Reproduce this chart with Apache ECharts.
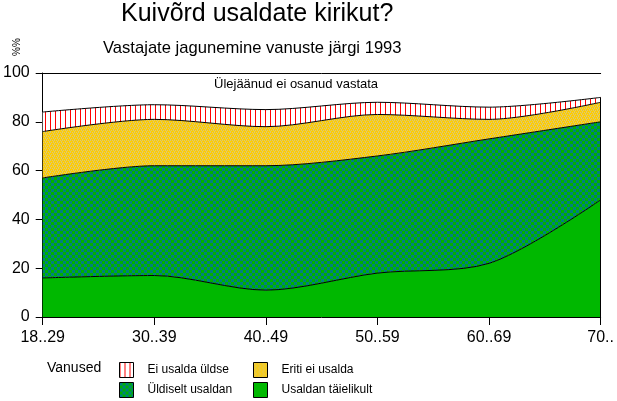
<!DOCTYPE html>
<html>
<head>
<meta charset="utf-8">
<script src="https://cdn.jsdelivr.net/npm/echarts@6/dist/echarts.min.js"></script>
<style>
html,body{margin:0;padding:0;background:#fff;}
#c{width:617px;height:401px;}
</style>
</head>
<body>
<div id="c"></div>
<script>
var categories = ['18..29','30..39','40..49','50..59','60..69','70..'];
var usaldanTaielikult = [16, 17, 11, 18, 22, 48];
var yldiseltUsaldan   = [41, 45, 51, 48, 51, 32];
var eritiEiUsalda     = [19, 19, 16, 17, 8, 8];
var eiUsaldaYldse     = [8, 6, 7, 5, 5, 2];
var yTicks = [0, 20, 40, 60, 80, 100];

var FONT = '"Liberation Sans", Arial, sans-serif';

function makePattern(w, h, draw) {
  var c = document.createElement('canvas');
  c.width = w; c.height = h;
  var ctx = c.getContext('2d');
  draw(ctx);
  return { image: c, repeat: 'repeat' };
}
var stripePat = makePattern(5, 5, function (ctx) {
  ctx.fillStyle = '#ffffff'; ctx.fillRect(0, 0, 5, 5);
  ctx.fillStyle = '#ff0000'; ctx.fillRect(0, 0, 1, 5);
});
var yellowPat = makePattern(4, 4, function (ctx) {
  ctx.fillStyle = '#ffcc00'; ctx.fillRect(0, 0, 4, 4);
  ctx.fillStyle = '#d8c878';
  ctx.fillRect(0, 0, 1, 1); ctx.fillRect(2, 0, 1, 1);
  ctx.fillRect(1, 2, 1, 1); ctx.fillRect(3, 2, 1, 1);
  ctx.fillRect(1, 1, 1, 1); ctx.fillRect(2, 3, 1, 1);
});
var checkPat = makePattern(6, 6, function (ctx) {
  ctx.fillStyle = '#00b000'; ctx.fillRect(0, 0, 6, 6);
  ctx.fillStyle = '#008080'; ctx.fillRect(0, 0, 3, 3); ctx.fillRect(3, 3, 3, 3);
});
var solidGreen = '#00b800';

var totals = categories.map(function (_, i) {
  return usaldanTaielikult[i] + yldiseltUsaldan[i] + eritiEiUsalda[i] + eiUsaldaYldse[i];
});
var last = categories.length - 1;

var SMOOTH = 0.3;
function areaSeries(name, data, fill, extra) {
  var s = {
    name: name, type: 'line', stack: 'total', data: data,
    smooth: SMOOTH, showSymbol: false, symbol: 'none',
    lineStyle: { color: '#000', width: 1 },
    itemStyle: { color: fill },
    areaStyle: { color: fill, opacity: 1 },
    emphasis: { disabled: true },
    animation: false
  };
  if (extra) for (var k in extra) s[k] = extra[k];
  return s;
}

function legendAt(name, fill, left, top) {
  return {
    data: [{ name: name, icon: 'rect', itemStyle: { color: fill, borderColor: '#000', borderWidth: 1 } }],
    left: left, top: top, orient: 'horizontal',
    itemWidth: 14, itemHeight: 15, padding: 0,
    selectedMode: false,
    textStyle: { fontFamily: FONT, fontSize: 12, color: '#000', padding: [0, 0, 0, 9] }
  };
}

var chart = echarts.init(document.getElementById('c'), null, { renderer: 'canvas' });
chart.setOption({
  animation: false,
  backgroundColor: '#fff',
  grid: { left: 42, right: 15, top: 73, bottom: 84 },
  xAxis: [{
    type: 'category', data: categories, boundaryGap: false,
    axisLine: { lineStyle: { color: '#000', width: 1 } },
    axisTick: { show: true, length: 8, lineStyle: { color: '#000' } },
    axisLabel: { color: '#000', fontSize: 16, fontFamily: FONT, margin: 13 },
    splitLine: { show: false }
  }, {
    type: 'category', data: categories, boundaryGap: false, position: 'top',
    axisLine: { show: true, lineStyle: { color: '#000', width: 1 } },
    axisTick: { show: false }, axisLabel: { show: false }, splitLine: { show: false }
  }],
  yAxis: {
    type: 'value', min: yTicks[0], max: yTicks[yTicks.length - 1], interval: 20,
    axisLine: { show: true, lineStyle: { color: '#000', width: 1 } },
    axisTick: { show: true, length: 7, lineStyle: { color: '#000' } },
    axisLabel: { color: '#000', fontSize: 16, fontFamily: FONT, margin: 13 },
    splitLine: { show: false }
  },
  legend: [
    legendAt('Ei usalda üldse', stripePat, 119, 362),
    legendAt('Eriti ei usalda', yellowPat, 253, 362),
    legendAt('Üldiselt usaldan', checkPat, 119, 382),
    legendAt('Usaldan täielikult', solidGreen, 253, 382)
  ],
  graphic: [
    { type: 'text', left: 121, top: 2, style: { text: 'Kuivõrd usaldate kirikut?', font: '25px ' + FONT, fill: '#000' } },
    { type: 'text', left: 103, top: 40, style: { text: 'Vastajate jagunemine vanuste järgi 1993', font: '16.6px ' + FONT, fill: '#000' } },
    { type: 'text', x: 12, y: 56, rotation: Math.PI / 2, style: { text: '%%', font: '10px ' + FONT, fill: '#000', textAlign: 'left', textVerticalAlign: 'top' } },
    { type: 'text', left: 214, top: 78, style: { text: 'Ülejäänud ei osanud vastata', font: '13px ' + FONT, fill: '#000' } },
    { type: 'text', left: 47, top: 361, style: { text: 'Vanused', font: '14px ' + FONT, fill: '#000' } }
  ],
  series: [
    areaSeries('Usaldan täielikult', usaldanTaielikult, solidGreen),
    areaSeries('Üldiselt usaldan', yldiseltUsaldan, checkPat),
    areaSeries('Eriti ei usalda', eritiEiUsalda, yellowPat),
    areaSeries('Ei usalda üldse', eiUsaldaYldse, stripePat, {
      markLine: {
        silent: true, symbol: 'none', animation: false,
        label: { show: false },
        lineStyle: { color: '#000', width: 1, type: 'solid' },
        data: [[{ coord: [categories[last], 0] }, { coord: [categories[last], totals[last]] }]]
      }
    })
  ]
});
</script>
</body>
</html>
